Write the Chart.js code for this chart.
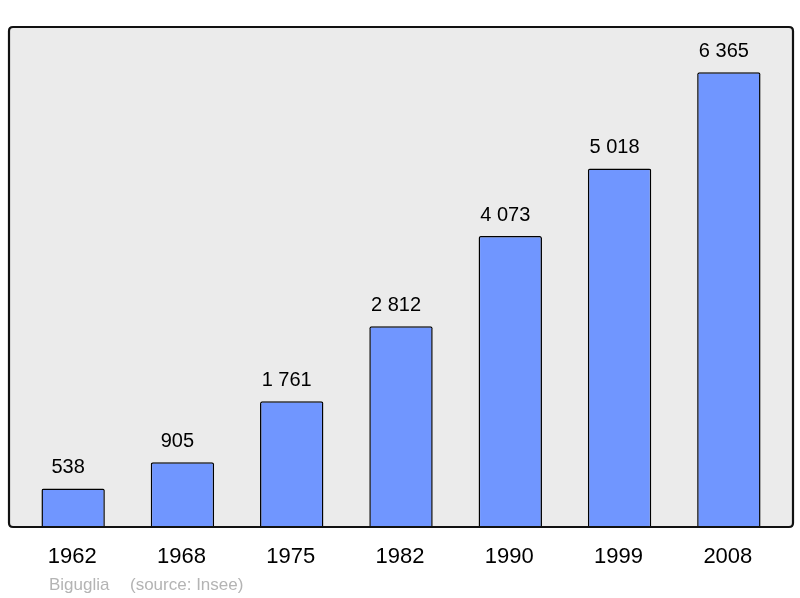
<!DOCTYPE html>
<html>
<head>
<meta charset="utf-8">
<script src="https://cdn.jsdelivr.net/npm/chart.js@4"></script>
<style>
  html, body { margin: 0; padding: 0; background: #fff; }
  #wrap { width: 800px; height: 598px; }
</style>
</head>
<body>
<div id="wrap"><canvas id="plot" width="800" height="598"></canvas></div>
<script>
var years = ['1962', '1968', '1975', '1982', '1990', '1999', '2008'];
var population = [538, 905, 1761, 2812, 4073, 5018, 6365];
var town = 'Biguglia';
var source = '(source: Insee)';

function fmt(n) {
  return String(n).replace(/\B(?=(\d{3})+(?!\d))/g, ' ');
}

function roundRect(ctx, x, y, w, h, r) {
  ctx.beginPath();
  ctx.moveTo(x + r, y);
  ctx.lineTo(x + w - r, y);
  ctx.quadraticCurveTo(x + w, y, x + w, y + r);
  ctx.lineTo(x + w, y + h - r);
  ctx.quadraticCurveTo(x + w, y + h, x + w - r, y + h);
  ctx.lineTo(x + r, y + h);
  ctx.quadraticCurveTo(x, y + h, x, y + h - r);
  ctx.lineTo(x, y + r);
  ctx.quadraticCurveTo(x, y, x + r, y);
  ctx.closePath();
}

// frame round the plot, a bit wider than the bar area
var frame = {
  id: 'frame',
  beforeDraw(chart) {
    var a = chart.chartArea, ctx = chart.ctx;
    ctx.save();
    roundRect(ctx, a.left - 9.5, a.top, a.right - a.left + 19, a.bottom - a.top, 4);
    ctx.fillStyle = '#ebebeb';
    ctx.fill();
    ctx.restore();
  },
  afterDraw(chart) {
    var a = chart.chartArea, ctx = chart.ctx;
    ctx.save();
    roundRect(ctx, a.left - 9.5, a.top, a.right - a.left + 19, a.bottom - a.top, 4);
    ctx.lineWidth = 2.2;
    ctx.strokeStyle = '#111';
    ctx.stroke();

    // year labels
    var x = chart.scales.x;
    ctx.fillStyle = '#000';
    ctx.font = '22px "Liberation Sans", Arial, sans-serif';
    ctx.textAlign = 'center';
    ctx.textBaseline = 'middle';
    years.forEach(function(y, i) {
      ctx.fillText(y, x.getPixelForValue(i) - 1, a.bottom + 30);
    });

    // footer
    ctx.fillStyle = '#b4b4b4';
    ctx.font = '17px "Liberation Sans", Arial, sans-serif';
    ctx.textAlign = 'left';
    ctx.fillText(town, 49, a.bottom + 58);
    ctx.fillText(source, 130, a.bottom + 58);
    ctx.restore();
  },
  afterDatasetsDraw(chart) {
    var ctx = chart.ctx;
    ctx.save();
    ctx.fillStyle = '#000';
    ctx.font = '20px "Liberation Sans", Arial, sans-serif';
    ctx.textAlign = 'center';
    ctx.textBaseline = 'middle';
    chart.getDatasetMeta(0).data.forEach(function(bar, i) {
      ctx.fillText(fmt(population[i]), bar.x - 5, bar.y - 21);
    });
    ctx.restore();
  }
};

new Chart(document.getElementById('plot'), {
  type: 'bar',
  data: {
    labels: years,
    datasets: [{
      data: population,
      backgroundColor: '#7096ff',
      borderColor: '#000',
      borderWidth: 1.5,
      borderRadius: { topLeft: 2, topRight: 2 },
      borderSkipped: 'bottom',
      categoryPercentage: 1,
      barPercentage: 0.58
    }]
  },
  options: {
    responsive: false,
    animation: false,
    layout: { padding: { left: 18.5, right: 16.5, top: 27, bottom: 71 } },
    plugins: { legend: { display: false }, tooltip: { enabled: false } },
    scales: {
      x: { display: false },
      y: { display: false, min: 0, max: 7000 }
    }
  },
  plugins: [frame]
});
</script>
</body>
</html>
